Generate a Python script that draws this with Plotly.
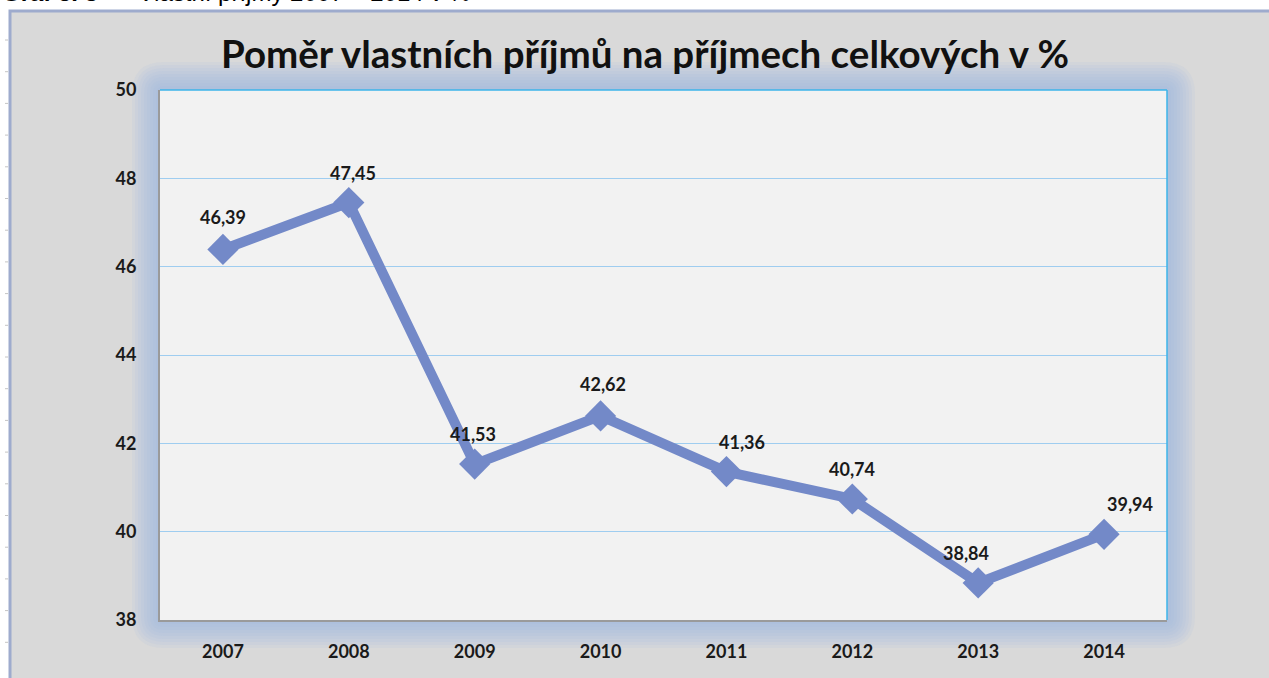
import plotly.graph_objects as go

# data
years = ["2007", "2008", "2009", "2010", "2011", "2012", "2013", "2014"]
ratio = [46.39, 47.45, 41.53, 42.62, 41.36, 40.74, 38.84, 39.94]
y_ticks = [38, 40, 42, 44, 46, 48, 50]

# label offsets in px (x, y) relative to each point
label_shift = [(0, 32), (4, 30), (-2, 30), (2, 32), (16, 30), (0, 30), (-12, 30), (26, 30)]

W, H = 1269, 678
L, R, T, B = 160, 1167, 90, 620
PW, PH = R - L, B - T

LINE = "#7389c8"
FONT = "Lato, 'Open Sans', sans-serif"


def px(x):
    return (x - L) / PW


def py(y):
    return (B - y) / PH


def rounded(x0, y0, x1, y1, r):
    # rounded rectangle path in paper coords from pixel box
    a, b, c, d = px(x0), px(x1), py(y0), py(y1)
    rx, ry = r / PW, r / PH
    return (f"M {a + rx},{c} L {b - rx},{c} Q {b},{c} {b},{c - ry} "
            f"L {b},{d + ry} Q {b},{d} {b - rx},{d} L {a + rx},{d} "
            f"Q {a},{d} {a},{d + ry} L {a},{c - ry} Q {a},{c} {a + rx},{c} Z")


shapes = [
    # grey chart area below the (cut-off) caption
    dict(type="rect", xref="paper", yref="paper", x0=px(10), x1=px(W + 5), y0=py(11), y1=py(H + 5),
         fillcolor="#d9d9d9", line=dict(color="#9eabcd", width=3), layer="below"),
]
# faint ruler marks on the page edge
for k in range(20):
    yy = 40 + k * 31.7
    if yy > H:
        break
    shapes.append(dict(type="line", xref="paper", yref="paper", x0=px(5), x1=px(8), y0=py(yy), y1=py(yy),
                       line=dict(color="#c4c4c4", width=1), layer="below"))
# soft blue glow round the plot area
for e in range(28, 0, -3):
    shapes.append(dict(type="path", xref="paper", yref="paper",
                       path=rounded(L - e, T - e, R + e, B + e, e + 4),
                       fillcolor="rgba(158,178,230,0.11)", line=dict(width=0), layer="below"))
shapes.append(dict(type="rect", xref="paper", yref="paper", x0=0, x1=1, y0=0, y1=1,
                   fillcolor="#f2f2f2", line=dict(width=0), layer="below"))
# top and right border in cyan
shapes.append(dict(type="line", xref="paper", yref="paper", x0=0, x1=1, y0=1, y1=1,
                   line=dict(color="#3db5ea", width=1.5)))
shapes.append(dict(type="line", xref="paper", yref="paper", x0=1, x1=1, y0=0, y1=1,
                   line=dict(color="#3db5ea", width=1.5)))

fig = go.Figure()
fig.add_trace(go.Scatter(
    x=years, y=ratio, mode="lines+markers",
    line=dict(color=LINE, width=10),
    marker=dict(symbol="diamond", size=24, color=LINE),
    hoverinfo="skip",
))

annotations = []
for i, (v, (dx, dy)) in enumerate(zip(ratio, label_shift)):
    annotations.append(dict(x=i, y=v, text=f"{v:.2f}".replace(".", ","), showarrow=False,
                            xshift=dx, yshift=dy,
                            font=dict(family=FONT, size=18, color="#1a1a1a", weight="bold")))

annotations.append(dict(xref="paper", yref="paper", x=px(645), y=py(53), xanchor="center", yanchor="middle",
                        text="Poměr vlastních příjmů na příjmech celkových v %", showarrow=False,
                        font=dict(family=FONT, size=38.5, color="#111111", weight="bold")))
# caption of the document, mostly cut off by the page top
annotations.append(dict(xref="paper", yref="paper", x=px(0), y=py(8), xanchor="left", yanchor="bottom",
                        text="<b>Graf 3. 5</b>  –  Vlastní příjmy 2007 – 2014 v %", showarrow=False,
                        font=dict(family="Liberation Sans, Arial", size=24, color="#000000")))

fig.update_layout(
    width=W, height=H,
    margin=dict(l=L, r=W - R, t=T, b=H - B),
    paper_bgcolor="#ffffff", plot_bgcolor="rgba(0,0,0,0)",
    showlegend=False, shapes=shapes, annotations=annotations,
)
fig.update_xaxes(
    type="category", range=[-0.5, 7.5], showgrid=False,
    showline=True, linecolor="#9a9a9a", linewidth=2,
    ticks="outside", ticklen=14, tickcolor="rgba(0,0,0,0)",
    tickfont=dict(family=FONT, size=18, color="#1a1a1a", weight="bold"),
)
fig.update_yaxes(
    range=[38, 50], tickvals=y_ticks, showgrid=True, gridcolor="#9fcdf0", gridwidth=1.2,
    zeroline=False, showline=True, linecolor="#9a9a9a", linewidth=2,
    ticks="outside", ticklen=18, tickcolor="rgba(0,0,0,0)",
    tickfont=dict(family=FONT, size=18, color="#1a1a1a", weight="bold"),
)

fig.write_html("out.html", config={"displayModeBar": False},
               post_script="document.body.style.margin='0';")
